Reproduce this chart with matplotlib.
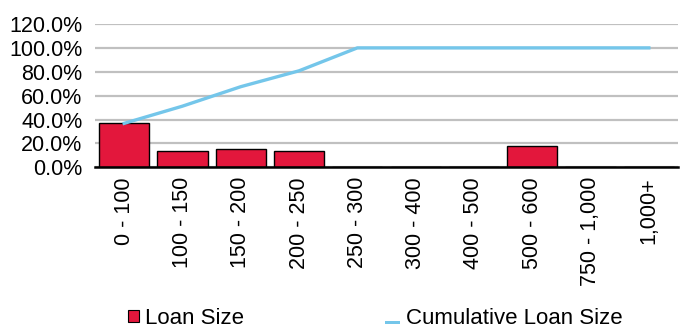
import numpy as np
import matplotlib.pyplot as plt
import matplotlib.patches as mpatches
from matplotlib.legend_handler import HandlerPatch
from matplotlib.ticker import PercentFormatter

plt.rcParams['font.family'] = ['Liberation Sans', 'DejaVu Sans']

# loan size buckets and shares
categories = ['0 - 100', '100 - 150', '150 - 200', '200 - 250', '250 - 300',
              '300 - 400', '400 - 500', '500 - 600', '750 - 1,000', '1,000+']
loan_size = [37.0, 13.4, 15.1, 13.4, 0.0, 0.0, 0.0, 18.1, 0.0, 0.0]
cumulative = [36.8, 51.2, 67.5, 80.8, 100.0, 100.0, 100.0, 100.0, 100.0, 100.0]

bar_color = '#E3173C'
line_color = '#74C6EA'

fig = plt.figure(figsize=(6.8, 3.29), dpi=100)
ax = fig.add_axes([95/680, 1 - 167.3/329, 583/680, 143.3/329])

x = np.arange(len(categories))
ax.bar(x, loan_size, width=0.86, color=bar_color, edgecolor='black', linewidth=1.0, zorder=3)
ax.plot(x, cumulative, color=line_color, linewidth=2.4, zorder=4)

ax.set_xlim(-0.5, len(categories) - 0.5)
ax.set_ylim(0, 120)
ax.set_yticks(np.arange(0, 121, 20))
ax.yaxis.set_major_formatter(PercentFormatter(decimals=1))
ax.set_xticks(x)
ax.set_xticklabels(categories, rotation=90, va='top', ha='center')

ax.grid(axis='y', color='#C0C0C0', linewidth=1.6, zorder=0)
for s in ['left', 'right', 'top']:
    ax.spines[s].set_visible(False)
ax.spines['bottom'].set_linewidth(1.8)
ax.spines['bottom'].set_zorder(5)
ax.tick_params(axis='both', length=0, labelsize=15.5)
ax.tick_params(axis='y', pad=9)
ax.tick_params(axis='x', pad=7)


def flat_line(legend, orig_handle, xdescent, ydescent, width, height, fontsize):
    return mpatches.Rectangle((-xdescent, -ydescent - 0.02 * fontsize), width, 0.14 * fontsize)


bar_handle = mpatches.Patch(facecolor=bar_color, edgecolor='black', linewidth=0.8)
line_handle = mpatches.Patch(facecolor=line_color, edgecolor='none')

fig.legend([bar_handle], ['Loan Size'], loc='lower left', bbox_to_anchor=(128/680, 0.0),
           frameon=False, fontsize=16, handlelength=0.5, handleheight=0.5,
           handletextpad=0.25, borderpad=0, borderaxespad=0)
fig.legend([line_handle], ['Cumulative Loan Size'], loc='lower left', bbox_to_anchor=(385/680, 0.0),
           frameon=False, fontsize=16, handlelength=0.68, handletextpad=0.25,
           borderpad=0, borderaxespad=0,
           handler_map={line_handle: HandlerPatch(patch_func=flat_line)})

fig.savefig('out.png', dpi=100)
